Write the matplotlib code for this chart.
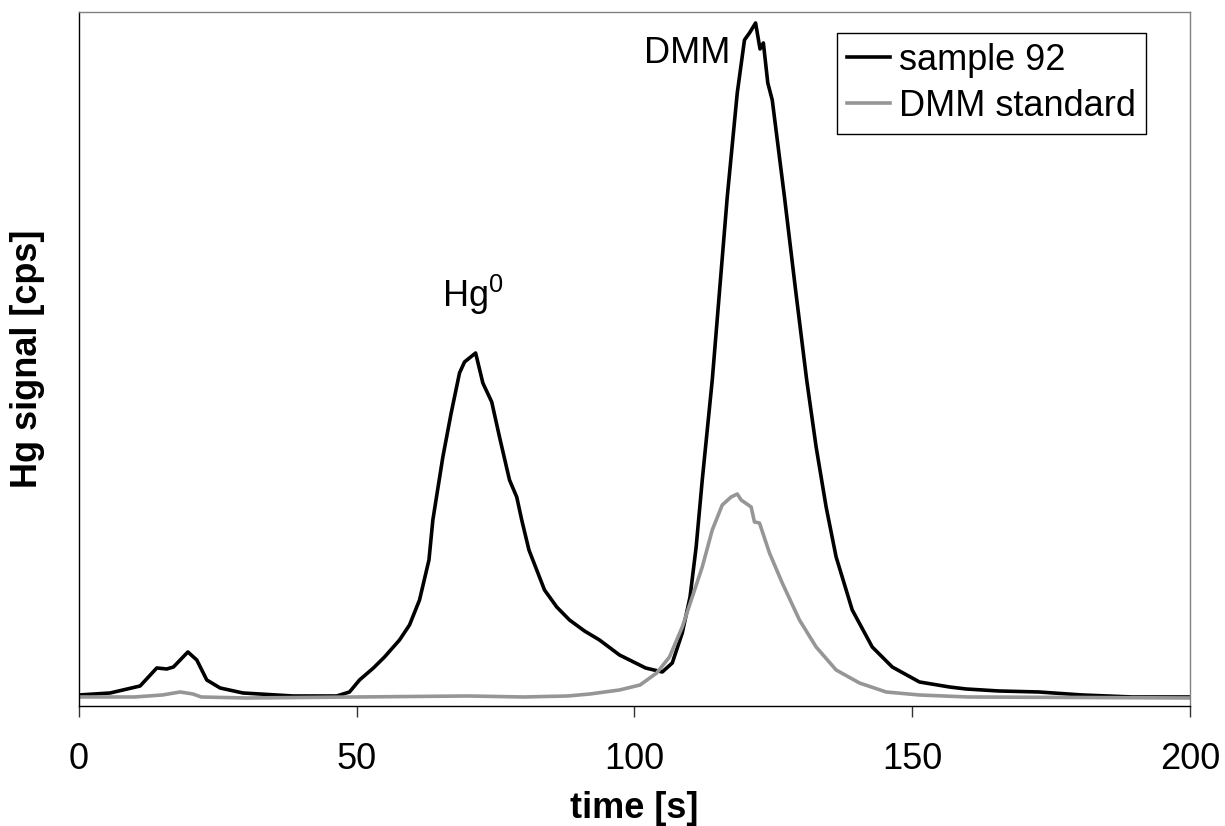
import matplotlib
matplotlib.use("Agg")
import matplotlib.pyplot as plt
import numpy as np

plt.rcParams["font.family"] = ["Liberation Sans", "DejaVu Sans"]
plt.rcParams["mathtext.default"] = "regular"

# Hg signal (pixel rows, converted to 0..100 of axis height below)
sample_t = [0, 5.6, 11, 14, 15.8, 17, 19.6, 21.2, 23, 25.4, 29.5, 38.5, 46.4, 48.7,
            50.5, 53, 55, 57.7, 59.5, 61.3, 63, 63.7, 65.5, 67, 68.5, 69.4, 71.4, 72.7, 74.3,
            75.7, 77.5, 78.8, 79.7, 81, 83.8, 86, 88.3, 91, 93.7, 97.3, 102, 105, 106.8,
            108.6, 110, 111.1, 112.2, 113.1, 114, 115.4, 116.7, 118.5, 119.8, 120.7, 121.8,
            122.6, 123.2, 124, 124.8, 127, 129, 131, 132.7, 134.5, 136.3, 139.2, 142.8,
            146.4, 151.3, 156.7, 159.7, 165.6, 172.8, 180.6, 189.6, 200]
sample_px = [695, 693, 686, 668, 669, 667, 652, 660, 680, 688, 693, 696, 696, 692,
             680, 668, 657, 640, 625, 600, 560, 520, 457, 413, 373, 362, 353, 383, 402,
             437, 480, 497, 520, 550, 590, 607, 620, 631, 640, 655, 668, 672, 663,
             633, 597, 547, 480, 430, 380, 285, 197, 93, 40, 33, 23,
             49, 43, 83, 100, 197, 290, 380, 447, 507, 557, 610, 647,
             667, 682, 687, 689, 691, 692, 695, 697, 697]

std_t = [0, 10, 15, 18.2, 20.5, 22, 30, 50, 70, 80, 88, 92, 97.3, 101, 104, 106.3,
         108.6, 110.4, 112.2, 114, 115.8, 117.4, 118.5, 119.2, 121, 121.6, 122.5,
         124.3, 126.6, 129.7, 132.7, 136.3, 140.5, 145.3, 151.3, 160, 200]
std_px = [697, 697, 695, 692, 694, 697, 698, 697, 696, 697, 696, 694, 690, 685, 673, 657,
          627, 597, 567, 530, 505, 497, 494, 500, 507, 522, 523,
          553, 583, 620, 647, 670, 683, 692, 695, 697, 698]

sample_sig = (706 - np.array(sample_px)) / 6.94
std_sig = (706 - np.array(std_px)) / 6.94

fig = plt.figure(figsize=(12.25, 8.26), dpi=100)
ax = fig.add_axes([0.0645, 0.1453, 0.9069, 0.8402])

ax.plot(sample_t, sample_sig, color="black", lw=2.6, label="sample 92")
ax.plot(std_t, std_sig, color="#969696", lw=2.6, label="DMM standard")

ax.set_xlim(0, 200)
ax.set_ylim(0, 100)
ax.set_xticks([0, 50, 100, 150, 200])
ax.set_yticks([])
ax.tick_params(axis="x", direction="out", length=8, width=1, color="#333333",
               labelsize=26, pad=18)

for side in ["top", "right"]:
    ax.spines[side].set_color("#808080")
    ax.spines[side].set_linewidth(1)
for side in ["left", "bottom"]:
    ax.spines[side].set_color("black")
    ax.spines[side].set_linewidth(1)

ax.set_xlabel("time [s]", fontsize=26, fontweight="bold", va="top")
ax.xaxis.set_label_coords(0.5, -0.122)
ax.set_ylabel("Hg signal [cps]", fontsize=26, fontweight="bold")
ax.yaxis.set_label_coords(-0.031, 0.5)

ax.text(65.3, 57.5, "Hg$^0$", fontsize=26, ha="left", va="baseline")
ax.text(101.7, 92.6, "DMM", fontsize=26, ha="left", va="baseline")

leg = ax.legend(loc="upper right", bbox_to_anchor=(0.9604, 0.97), fontsize=26,
                frameon=True, fancybox=False, framealpha=1, edgecolor="black",
                handlelength=1.2, handletextpad=0.25, borderpad=0.28,
                labelspacing=0.3, borderaxespad=0)
leg.get_frame().set_linewidth(1)

fig.savefig("out.png", dpi=100)
